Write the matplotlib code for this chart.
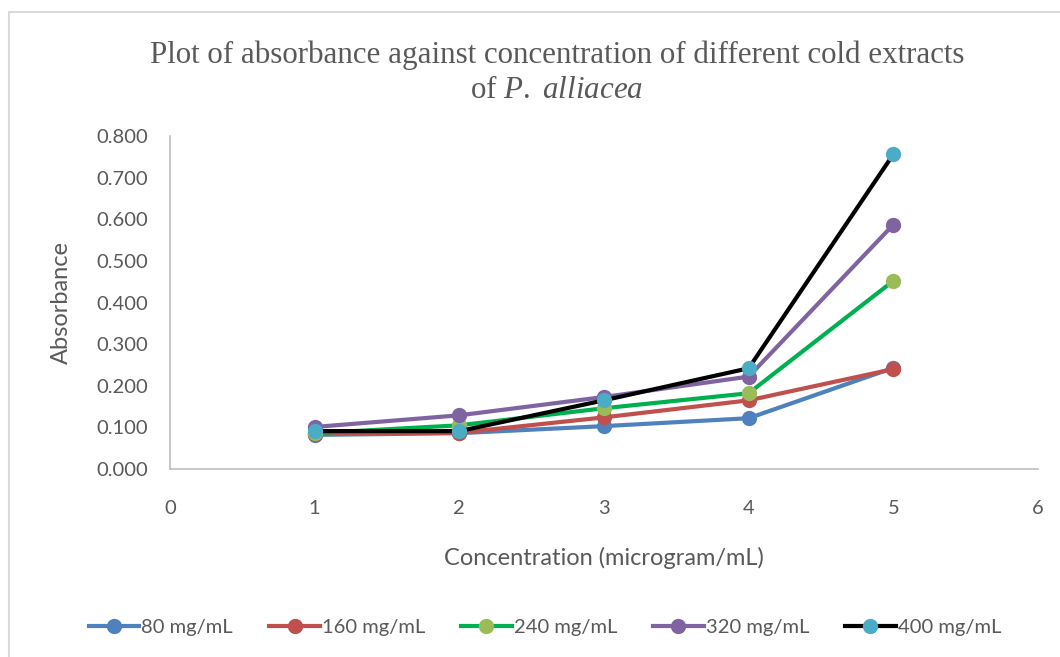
import matplotlib
matplotlib.use("Agg")
import matplotlib.pyplot as plt
from matplotlib.patches import Rectangle

plt.rcParams["mathtext.fontset"] = "custom"
plt.rcParams["mathtext.rm"] = "Liberation Serif"
plt.rcParams["mathtext.it"] = "Liberation Serif:italic"

x_vals = [1, 2, 3, 4, 5]
series_names = ["80 mg/mL", "160 mg/mL", "240 mg/mL", "320 mg/mL", "400 mg/mL"]
s80 = [0.082, 0.086, 0.103, 0.122, 0.243]
s160 = [0.085, 0.087, 0.124, 0.165, 0.240]
s240 = [0.086, 0.105, 0.146, 0.182, 0.452]
s320 = [0.101, 0.129, 0.173, 0.222, 0.587]
s400 = [0.091, 0.091, 0.165, 0.242, 0.756]
series_values = [s80, s160, s240, s320, s400]
line_colors = ["#4F81BD", "#C0504D", "#00B050", "#8064A2", "#000000"]
marker_colors = ["#4F81BD", "#C0504D", "#9BBB59", "#8064A2", "#4BACC6"]
y_ticks = [0.0, 0.1, 0.2, 0.3, 0.4, 0.5, 0.6, 0.7, 0.8]
x_ticks = [0, 1, 2, 3, 4, 5, 6]

W, H = 1060, 657
fig = plt.figure(figsize=(W / 100, H / 100), dpi=100)
ax = fig.add_axes([170 / W, 1 - 469 / H, (1038 - 170) / W, (469 - 136) / H])

for name, vals, lc, mc in zip(series_names, series_values, line_colors, marker_colors):
    ax.plot(x_vals, vals, color=lc, lw=3, marker="o", ms=10,
            markerfacecolor=mc, markeredgecolor=mc, label=name, zorder=3)

ax.set_xlim(0, 6)
ax.set_ylim(0, 0.8)
ax.set_xticks(x_ticks)
ax.set_yticks(y_ticks)
ax.set_yticklabels([f"{v:.3f}" for v in y_ticks])
tick_font = "Lato"
for lab in ax.get_xticklabels() + ax.get_yticklabels():
    lab.set_fontfamily(tick_font)
    lab.set_fontsize(14.5)
    lab.set_color("#595959")
ax.tick_params(axis="y", length=0, pad=16)
ax.tick_params(axis="x", length=0, pad=22)
for s in ["top", "right"]:
    ax.spines[s].set_visible(False)
for s in ["left", "bottom"]:
    ax.spines[s].set_color("#BFBFBF")
    ax.spines[s].set_linewidth(1.2)

fig.text(61 / W, 1 - 302 / H, "Absorbance", rotation=90, ha="center", va="center",
         fontsize=17, color="#595959", family=tick_font)
fig.text(604 / W, 1 - 558 / H, "Concentration (microgram/mL)", ha="center", va="center",
         fontsize=17, color="#595959", family=tick_font)

fig.text(557 / W, 1 - 55 / H, "Plot of absorbance against concentration of different cold extracts",
         ha="center", va="center", fontsize=22.3, color="#595959", family="Liberation Serif")
fig.text(557 / W, 1 - 90 / H, r"of $\mathit{P.}$ $\mathit{alliacea}$", ha="center", va="center",
         fontsize=22.3, color="#595959", family="Liberation Serif")

leg = fig.legend(loc="center", bbox_to_anchor=(545 / W, 1 - 627 / H), ncol=5, frameon=False,
                 prop={"family": tick_font, "size": 14.5}, handlelength=2.5, columnspacing=1.8,
                 handletextpad=0.1)
for t in leg.get_texts():
    t.set_color("#595959")

fig.patches.append(Rectangle((9 / W, -0.1), 1.2, 1 - 12 / H + 0.1, transform=fig.transFigure,
                             fill=False, edgecolor="#D9D9D9", lw=1.5))
fig.savefig("out.png", dpi=100)
